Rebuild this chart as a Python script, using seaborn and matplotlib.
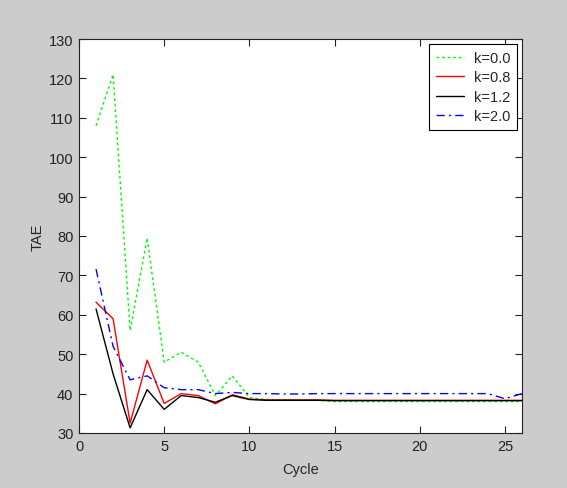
import matplotlib
matplotlib.use("Agg")
import matplotlib.pyplot as plt
import seaborn as sns
import pandas as pd

cycles = list(range(1, 27))
tae_k00 = [108, 121, 56, 79.5, 48, 50.5, 48, 39.5, 44.5, 39, 38.5, 38.4, 38.3, 38.3, 38, 38, 38, 38, 38, 38, 38, 38, 38, 38, 38, 38]
tae_k08 = [63.2, 59, 32.5, 48.5, 37.5, 40, 39.5, 37.4, 39.7, 38.6, 38.4, 38.4, 38.4, 38.4, 38.3, 38.3, 38.3, 38.3, 38.3, 38.3, 38.3, 38.3, 38.3, 38.3, 38.3, 38.3]
tae_k12 = [61.5, 45, 31.3, 41, 36, 39.5, 39, 37.8, 39.5, 38.5, 38.3, 38.3, 38.3, 38.3, 38.2, 38.2, 38.2, 38.2, 38.2, 38.2, 38.2, 38.2, 38.2, 38.2, 38.2, 38.2]
tae_k20 = [71.6, 52, 43.5, 44.5, 41.5, 41, 41, 40, 40.3, 40, 40, 39.9, 39.9, 40, 40, 40, 40, 40, 40, 40, 40, 40, 40, 40, 38.7, 40]
labels = ["k=0.0", "k=0.8", "k=1.2", "k=2.0"]
colors = ["#00ff00", "#ff0000", "#000000", "#0000ff"]
styles = [(0, (2, 2)), "-", "-", (0, (6, 3, 1.5, 3))]

sns.set_style("ticks")
plt.rcParams['font.family'] = ['Liberation Sans', 'DejaVu Sans']

fig = plt.figure(figsize=(5.67, 4.89), dpi=100, facecolor="#cccccc")
ax = fig.add_axes([79/567, 1-434/489, (522-79)/567, (434-40)/489])
ax.set_facecolor("white")

series = [tae_k00, tae_k08, tae_k12, tae_k20]
for vals, lab, col, ls in zip(series, labels, colors, styles):
    df = pd.DataFrame({"Cycle": cycles, "TAE": vals})
    sns.lineplot(data=df, x="Cycle", y="TAE", ax=ax, color=col, linestyle=ls,
                 linewidth=1.0, label=lab)

ax.set_xlim(0, 26)
ax.set_ylim(30, 130)
ax.set_xticks([0, 5, 10, 15, 20, 25])
ax.set_yticks(list(range(30, 131, 10)))
ax.tick_params(direction="in", top=True, right=True, length=5, width=0.8,
               labelsize=10.5, colors="#222222", pad=4)
for sp in ax.spines.values():
    sp.set_visible(True)
    sp.set_color("#222222")
    sp.set_linewidth(0.8)
ax.set_xlabel("Cycle", fontsize=10.5, labelpad=7)
ax.set_ylabel("TAE", fontsize=10.5, labelpad=3)

leg = ax.legend(loc="upper right", fontsize=10.5, frameon=True, fancybox=False,
                handlelength=1.9, handletextpad=0.7, borderpad=0.45,
                labelspacing=0.38, borderaxespad=0.35)
leg.get_frame().set_edgecolor("black")
leg.get_frame().set_linewidth(0.8)
leg.get_frame().set_alpha(1)

fig.savefig("out.png", dpi=100, facecolor=fig.get_facecolor())
